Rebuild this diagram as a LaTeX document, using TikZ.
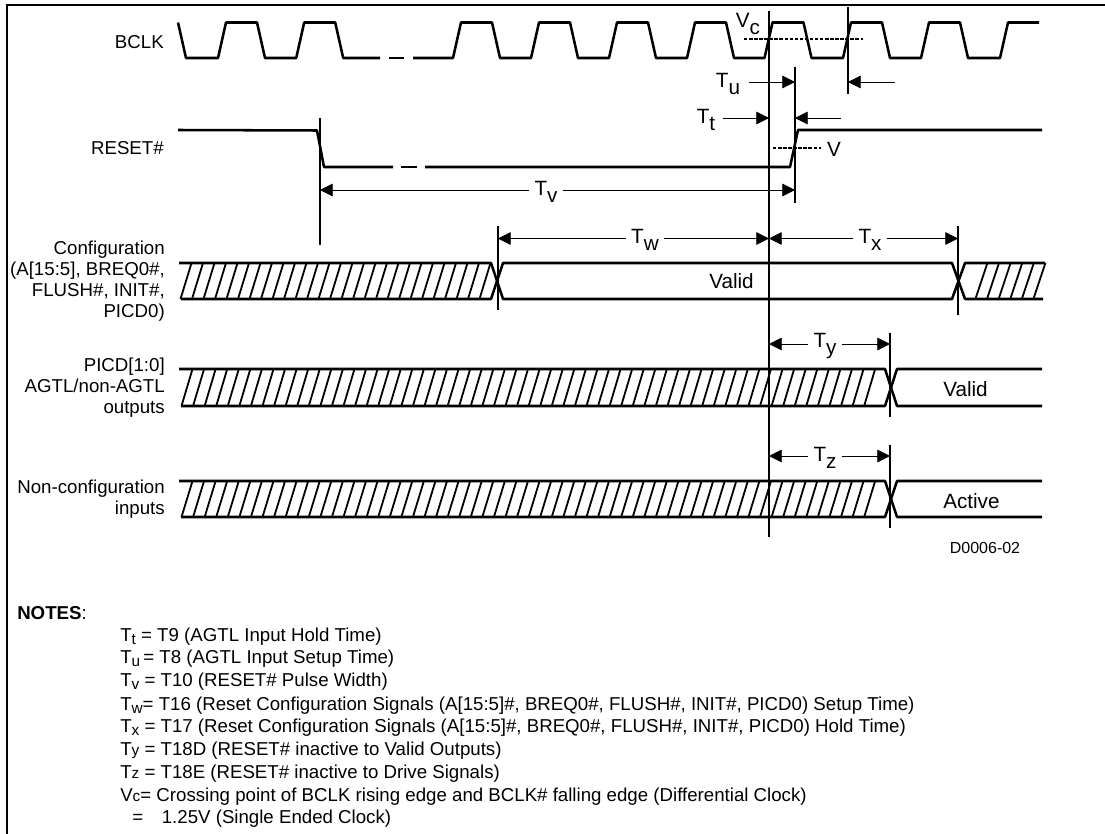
\documentclass[tikz,border=0pt]{standalone}
\usepackage{fontspec}
\setmainfont{Liberation Sans}
\usetikzlibrary{arrows.meta}
\newcommand{\Tlow}[2]{#1\raisebox{-0.32em}{#2}}
\newcommand{\Nlow}[2]{#1{\fontsize{11.5pt}{11.5pt}\selectfont\raisebox{-0.2em}{#2}}}
\newcommand{\Nflat}[2]{#1{\fontsize{11.5pt}{11.5pt}\selectfont #2}}

\begin{document}
\begin{tikzpicture}[
  x=0.75pt, y=-0.75pt,
  frameline/.style={line width=1.5pt},
  sig/.style={line width=1.9pt, line join=round},
  hatchline/.style={line width=1.35pt},
  edgemark/.style={line width=1.1pt},
  dim/.style={line width=0.6pt, -{Triangle[length=9.5pt,width=9.5pt]}},
  level/.style={line width=1.1pt, dash pattern=on 2.6pt off 1.2pt},
  signame/.style={font=\fontsize{14pt}{15.8pt}\selectfont, align=right, anchor=east, inner sep=0pt},
  dimlabel/.style={font=\fontsize{15.5pt}{16pt}\selectfont, inner sep=0pt, outer sep=4pt},
  buslabel/.style={font=\fontsize{15.5pt}{16pt}\selectfont, inner sep=0pt, anchor=west},
  note/.style={font=\fontsize{14pt}{16pt}\selectfont, inner sep=0pt, anchor=base west}
]
\useasboundingbox (0,0) rectangle (1105,834);
\draw[frameline] (1105,5.5) -| (6.5,834);

% signal names
\node[signame] (bclk) at (164,42) {BCLK};
\node[signame] (reset) at (164,148) {RESET\#};
\node[signame] (config) at (165,281) {Configuration\\(A[15:5], BREQ0\#,\\FLUSH\#, INIT\#,\\PICD0)};
\node[signame] (picd) at (165,388) {PICD[1:0]\\AGTL/non-AGTL\\outputs};
\node[signame] (nonconfig) at (165,499) {Non-configuration\\inputs};

% BCLK
\draw[sig] (178,22.5) -- (186,58) foreach \x in {226,304.2} { -- (\x-8,58) -- (\x,22.5) -- (\x+31,22.5) -- (\x+39,58) } -- (380,58);
\draw[sig] (389,58) -- (404,58);
\draw[sig] (413,58) foreach \x in {461,539,617,695,772.5,851,929} { -- (\x-8,58) -- (\x,22.5) -- (\x+31,22.5) -- (\x+39,58) } -- (1000,58) -- (1008,22.5) -- (1039,22.5);

% RESET#
\draw[sig] (178,130) -- (317,130.5) -- (324,167) -- (393,167);
\draw[sig] (401,167) -- (417,167);
\draw[sig] (425,167) -- (790,167) -- (798,130) -- (1042,130);

% configuration bus
\draw[sig] (179,263) -- (491,263) -- (503,299) -- (952,299) -- (965,263) -- (1045,263);
\draw[sig] (181,299) -- (491,299) -- (503,263) -- (952,263) -- (965,299) -- (1043,299);
\foreach \x in {180.5,192,...,480} \draw[hatchline] (\x,299) -- (\x+11,263);
\foreach \x in {975.4,987,...,1035} \draw[hatchline] (\x,299) -- (\x+12,263);

% PICD bus
\draw[sig] (179,369) -- (885,369) -- (897,406) -- (1042,406);
\draw[sig] (181,406) -- (885,406) -- (897,369) -- (1042,369);
\foreach \x in {181.5,193.07,...,875} \draw[hatchline] (\x,406) -- (\x+11,369);

% non-configuration bus
\draw[sig] (179,481) -- (885,481) -- (897,517) -- (1042,517);
\draw[sig] (181,517) -- (885,517) -- (897,481) -- (1042,481);
\foreach \x in {181.5,193.07,...,875} \draw[hatchline] (\x,517) -- (\x+11,481);

% edge marks
\draw[edgemark] (769,11) -- (769,537);
\draw[edgemark] (848,7) -- (848,94);
\draw[edgemark] (795,67) -- (795,203);
\draw[edgemark] (320,118) -- (320,245);
\draw[edgemark] (498,226) -- (498,310);
\draw[edgemark] (958,226) -- (958,315);
\draw[edgemark] (890,333) -- (890,417);
\draw[edgemark] (890,445) -- (890,528);

% levels
\draw[level] (744,39) -- (863,39);
\draw[level] (773,148) -- (821,148);
\node[font=\fontsize{15.5pt}{16pt}\selectfont, inner sep=0pt] (vc) at (748,24) {\Tlow{V}{c}};
\node[font=\fontsize{15.5pt}{16pt}\selectfont, inner sep=0pt] (vlevel) at (834,149) {V};

% timing arrows
\coordinate (tuin) at (749,82);
\coordinate (tuend) at (795,82);
\coordinate (tuback) at (895,82);
\coordinate (tuhit) at (848,82);
\coordinate (ttin) at (723,118);
\coordinate (ttend) at (769,118);
\coordinate (ttback) at (841,118);
\coordinate (tthit) at (795,118);
\node[dimlabel] (tu) at (728,84) {\Tlow{T}{u}};
\node[dimlabel] (tt) at (706,120) {\Tlow{T}{t}};
\draw[dim] (tuin) -- (tuend);
\draw[dim] (tuback) -- (tuhit);
\draw[dim] (ttin) -- (ttend);
\draw[dim] (ttback) -- (tthit);

\node[dimlabel] (tv) at (546,192) {\Tlow{T}{v}};
\coordinate (tvl) at (320,190);
\coordinate (tvr) at (795,190);
\draw[dim] (tv.west |- tvl) -- (tvl);
\draw[dim] (tv.east |- tvr) -- (tvr);

\node[dimlabel] (tw) at (645,240) {\Tlow{T}{w}};
\coordinate (twl) at (498,238.5);
\coordinate (twr) at (769,238.5);
\draw[dim] (tw.west |- twl) -- (twl);
\draw[dim] (tw.east |- twr) -- (twr);

\node[dimlabel] (tx) at (870,240) {\Tlow{T}{x}};
\coordinate (txl) at (769,238.5);
\coordinate (txr) at (958,238.5);
\draw[dim] (tx.west |- txl) -- (txl);
\draw[dim] (tx.east |- txr) -- (txr);

\node[dimlabel] (ty) at (825,346) {\Tlow{T}{y}};
\coordinate (tyl) at (769,344);
\coordinate (tyr) at (890,344);
\draw[dim] (ty.west |- tyl) -- (tyl);
\draw[dim] (ty.east |- tyr) -- (tyr);

\node[dimlabel] (tz) at (825,458) {\Tlow{T}{z}};
\coordinate (tzl) at (769,456);
\coordinate (tzr) at (890,456);
\draw[dim] (tz.west |- tzl) -- (tzl);
\draw[dim] (tz.east |- tzr) -- (tzr);

% bus contents
\node[buslabel] (valid1) at (709,281) {Valid};
\node[buslabel] (valid2) at (943,389) {Valid};
\node[buslabel] (active) at (943,501) {Active};
\node[font=\fontsize{12pt}{13pt}\selectfont, inner sep=0pt] (drawingno) at (985,548) {D0006-02};

% notes
\node[note] (notes) at (17,619) {\textbf{NOTES}:};
\node[note] (n1) at (120,641) {\Nlow{T}{t} = T9 (AGTL Input Hold Time)};
\node[note] (n2) at (120,663) {\Nlow{T}{u}\,= T8 (AGTL Input Setup Time)};
\node[note] (n3) at (120,686) {\Nlow{T}{v} = T10 (RESET\# Pulse Width)};
\node[note] (n4) at (120,710) {\Nlow{T}{w}= T16 (Reset Configuration Signals (A[15:5]\#, BREQ0\#, FLUSH\#, INIT\#, PICD0) Setup Time)};
\node[note] (n5) at (120,732) {\Nlow{T}{x} = T17 (Reset Configuration Signals (A[15:5]\#, BREQ0\#, FLUSH\#, INIT\#, PICD0) Hold Time)};
\node[note] (n6) at (120,755) {\Nflat{T}{y} = T18D (RESET\# inactive to Valid Outputs)};
\node[note] (n7) at (120,778) {\Nflat{T}{z} = T18E (RESET\# inactive to Drive Signals)};
\node[note] (n8) at (120,801) {\Nflat{V}{c}= Crossing point of BCLK rising edge and BCLK\# falling edge (Differential Clock)};
\node[note] (n9) at (132,823) {=\hspace{14pt}1.25V (Single Ended Clock)};
\end{tikzpicture}
\end{document}
